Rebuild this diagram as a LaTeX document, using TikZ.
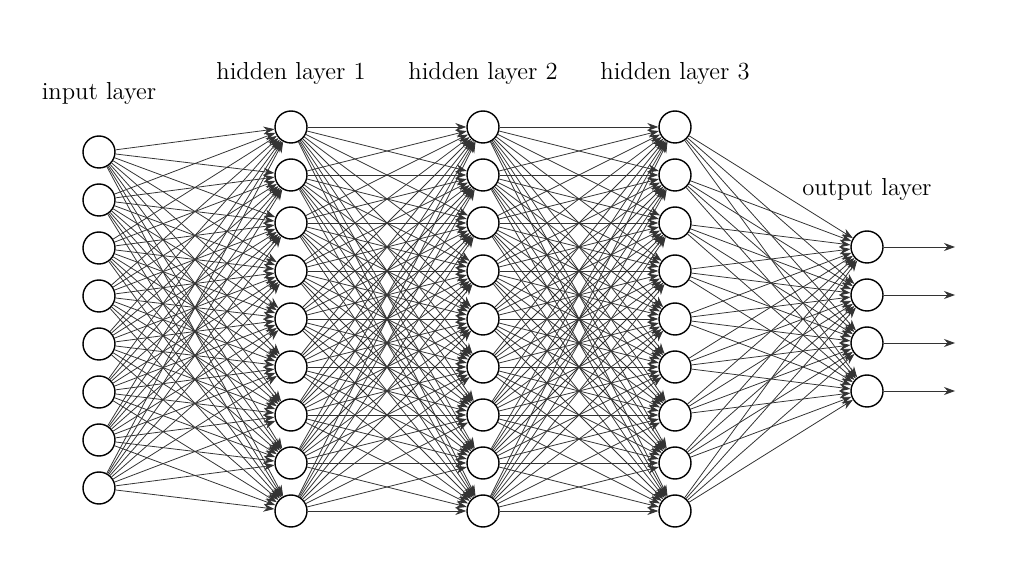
\documentclass[tikz,border=0pt]{standalone}
\usepackage{tikz}
\usetikzlibrary{arrows.meta}
\tikzset{
  neuron/.style={circle,draw=black,thick,fill=white,minimum size=0.64cm,inner sep=0pt},
  layerlabel/.style={font=\fontsize{14}{16}\selectfont},
  synapse/.style={-{Stealth[length=2.2mm,width=1.6mm]},black!80,line width=0.45pt}
}
\begin{document}
\begin{tikzpicture}[x=0.02cm,y=-0.02cm]
\useasboundingbox (0,0) rectangle (1024,563);
% neurons
\foreach \i in {1,...,8}
  \node[neuron] (I-\i) at (99,{152+48*(\i-1)}) {};
\foreach \l/\x in {1/291,2/483,3/675}
  \foreach \i in {1,...,9}
    \node[neuron] (H\l-\i) at (\x,{127+48*(\i-1)}) {};
\foreach \i in {1,...,4}
  \node[neuron] (O-\i) at (867,{247+48*(\i-1)}) {};
% connections
\foreach \i in {1,...,8}
  \foreach \j in {1,...,9}
    \draw[synapse] (I-\i) -- (H1-\j);
\foreach \i in {1,...,9}
  \foreach \j in {1,...,9}
    {\draw[synapse] (H1-\i) -- (H2-\j);
     \draw[synapse] (H2-\i) -- (H3-\j);}
\foreach \i in {1,...,9}
  \foreach \j in {1,...,4}
    \draw[synapse] (H3-\i) -- (O-\j);
\foreach \i in {1,...,4}
  {\coordinate (out-\i) at (955,{247+48*(\i-1)});
   \draw[synapse] (O-\i) -- (out-\i);}
% labels
\node[layerlabel] (lin) at (99,93) {input layer};
\node[layerlabel] (lh1) at (291,73) {hidden layer 1};
\node[layerlabel] (lh2) at (483,73) {hidden layer 2};
\node[layerlabel] (lh3) at (675,73) {hidden layer 3};
\node[layerlabel] (lout) at (867,189) {output layer};
\end{tikzpicture}
\end{document}
